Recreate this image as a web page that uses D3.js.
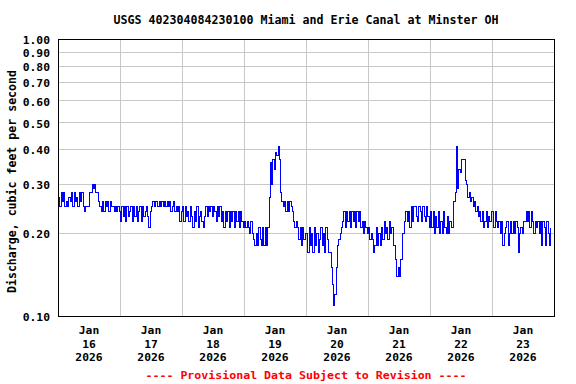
<!DOCTYPE html>
<html>
<head>
<meta charset="utf-8">
<script src="https://cdn.jsdelivr.net/npm/d3@7"></script>
<style>
  html, body { margin: 0; padding: 0; background: #fff; }
  svg { display: block; }
  text { font-family: "DejaVu Sans Mono", "Liberation Mono", monospace; font-weight: bold; }
</style>
</head>
<body>
<svg id="chart" width="576" height="384"></svg>
<script>
// ---- Data (half-hourly discharge, cfs) ----
const title = "USGS 402304084230100 Miami and Erie Canal at Minster OH";
const yTitle = "Discharge, cubic feet per second";
const footnote = "---- Provisional Data Subject to Revision ----";
const startDate = "2026-01-16T00:00:00Z";
const endDate = "2026-01-24T00:00:00Z";
const dayLabels = ["16", "17", "18", "19", "20", "21", "22", "23"];
const monthLabel = "Jan";
const yearLabel = "2026";
const yTicks = [0.10, 0.20, 0.30, 0.40, 0.50, 0.60, 0.70, 0.80, 0.90, 1.00];
const yGrid = [0.20, 0.30, 0.40, 0.50, 0.60, 0.70, 0.80, 0.90];

const jan16 = [0.27,0.25, 0.28,0.26, 0.28,0.25, 0.26,0.25, 0.27,0.26, 0.28,0.25, 0.28,0.26, 0.27,0.25,
               0.28,0.26, 0.28,0.25, 0.24,0.25, 0.25,0.25, 0.28,0.28, 0.30,0.29, 0.30,0.28, 0.28,0.26,
               0.25,0.24, 0.26,0.24, 0.26,0.25, 0.26,0.24, 0.26,0.25, 0.25,0.24, 0.25,0.24, 0.25,0.24];
const jan17 = [0.22,0.25, 0.23,0.25, 0.22,0.25, 0.23,0.24, 0.25,0.22, 0.25,0.23, 0.25,0.22, 0.24,0.25,
               0.22,0.25, 0.23,0.24, 0.25,0.23, 0.21,0.24, 0.25,0.26, 0.25,0.26, 0.26,0.25, 0.26,0.25,
               0.26,0.25, 0.26,0.25, 0.26,0.25, 0.26,0.24, 0.25,0.26, 0.24,0.25, 0.24,0.25, 0.22,0.24];
const jan18 = [0.25,0.22, 0.25,0.23, 0.24,0.22, 0.25,0.23, 0.21,0.24, 0.22,0.25, 0.21,0.23, 0.24,0.22,
               0.21,0.23, 0.25,0.23, 0.25,0.24, 0.25,0.23, 0.25,0.24, 0.22,0.25, 0.23,0.25, 0.22,0.24,
               0.21,0.24, 0.22,0.24, 0.21,0.24, 0.22,0.24, 0.21,0.24, 0.22,0.24, 0.21,0.24, 0.22,0.21];
const jan19 = [0.22,0.21, 0.22,0.21, 0.20,0.22, 0.20,0.19, 0.18,0.20, 0.18,0.21, 0.19,0.18, 0.21,0.18,
               0.21,0.18, 0.21,0.27, 0.36,0.30, 0.37,0.34, 0.39,0.38, 0.41,0.37, 0.28,0.26, 0.25,0.26,
               0.24,0.26, 0.24,0.26, 0.25,0.24, 0.22,0.21, 0.22,0.21, 0.19,0.21, 0.18,0.21, 0.19,0.20];
const jan20 = [0.20,0.17, 0.21,0.18, 0.20,0.17, 0.21,0.18, 0.20,0.17, 0.19,0.21, 0.18,0.20, 0.17,0.21,
               0.19,0.17, 0.17,0.15, 0.13,0.11, 0.12,0.15, 0.18,0.19, 0.20,0.21, 0.22,0.24, 0.21,0.24,
               0.22,0.24, 0.21,0.24, 0.22,0.24, 0.21,0.24, 0.22,0.24, 0.21,0.22, 0.20,0.22, 0.21,0.20];
const jan21 = [0.21,0.19, 0.20,0.19, 0.17,0.18, 0.21,0.18, 0.20,0.18, 0.21,0.19, 0.22,0.20, 0.21,0.19,
               0.22,0.20, 0.21,0.18, 0.18,0.16, 0.14,0.15, 0.14,0.16, 0.20,0.20, 0.22,0.24, 0.22,0.24,
               0.21,0.25, 0.22,0.25, 0.25,0.23, 0.22,0.25, 0.24,0.22, 0.25,0.23, 0.22,0.25, 0.23,0.21];
const jan22 = [0.24,0.21, 0.24,0.20, 0.23,0.21, 0.24,0.20, 0.22,0.20, 0.24,0.21, 0.20,0.23, 0.20,0.22,
               0.21,0.21, 0.26,0.28, 0.41,0.29, 0.34,0.33, 0.37,0.37, 0.37,0.31, 0.30,0.27, 0.28,0.26,
               0.27,0.25, 0.26,0.24, 0.25,0.23, 0.24,0.22, 0.24,0.21, 0.22,0.24, 0.21,0.23, 0.22,0.24];
const jan23 = [0.24,0.21, 0.24,0.22, 0.21,0.22, 0.20,0.22, 0.18,0.20, 0.21,0.22, 0.18,0.20, 0.22,0.20,
               0.22,0.20, 0.22,0.21, 0.17,0.20, 0.21,0.20, 0.22,0.22, 0.24,0.22, 0.24,0.21, 0.24,0.22,
               0.20,0.22, 0.21,0.22, 0.20,0.22, 0.18,0.22, 0.21,0.18, 0.22,0.20, 0.18,0.21];

const values = [].concat(jan16, jan17, jan18, jan19, jan20, jan21, jan22, jan23);
const t0 = new Date(startDate);
const series = values.map((v, i) => ({ t: d3.utcMinute.offset(t0, i * 30), v }));

// ---- Layout ----
const svg = d3.select("#chart");
const L = 58, R = 554, T = 39, B = 316;

const x = d3.scaleUtc().domain([new Date(startDate), new Date(endDate)]).range([L, R]);
const y = d3.scaleLog().domain([0.1, 1]).range([B, T]);

// Gridlines
const days = d3.utcDay.range(new Date(startDate), new Date(endDate));
svg.append("g").selectAll("line").data(days.slice(1)).join("line")
  .attr("x1", d => Math.round(x(d)) + 0.5).attr("x2", d => Math.round(x(d)) + 0.5)
  .attr("y1", T).attr("y2", B)
  .attr("stroke", "#c8c8c8").attr("stroke-width", 1).attr("shape-rendering", "crispEdges");
svg.append("g").selectAll("line").data(yGrid).join("line")
  .attr("x1", L).attr("x2", R)
  .attr("y1", d => Math.round(y(d)) + 0.5).attr("y2", d => Math.round(y(d)) + 0.5)
  .attr("stroke", "#c8c8c8").attr("stroke-width", 1).attr("shape-rendering", "crispEdges");

// Data line (pixel-snapped, like the original bitmap plot)
const line = d3.line()
  .x(d => Math.round(x(d.t)) + 0.5)
  .y(d => Math.round(y(d.v)) + 0.5)
  .curve(d3.curveStepAfter);
svg.append("path").datum(series)
  .attr("d", line).attr("fill", "none")
  .attr("stroke", "#0000ff").attr("stroke-width", 1)
  .attr("shape-rendering", "crispEdges");

// Frame
svg.append("rect").attr("x", L + 0.5).attr("y", T + 0.5)
  .attr("width", R - L).attr("height", B - T)
  .attr("fill", "none").attr("stroke", "#000").attr("stroke-width", 1)
  .attr("shape-rendering", "crispEdges");

// Y axis labels
const yAxis = d3.axisLeft(y).tickValues(yTicks).tickFormat(d3.format(".2f")).tickSize(0).tickPadding(8);
const gy = svg.append("g").attr("transform", `translate(${L},0)`).call(yAxis);
gy.select(".domain").remove();
gy.selectAll("text").attr("font-size", "11.3px").attr("fill", "#000")
  .attr("font-family", "DejaVu Sans Mono").attr("font-weight", "bold").attr("dy", "0.42em")
  .attr("textLength", 27.3).attr("lengthAdjust", "spacingAndGlyphs");

// X axis labels (three lines, at noon of each day)
const noons = days.map(d => d3.utcHour.offset(d, 12));
const gx = svg.append("g");
noons.forEach((d, i) => {
  const cx = x(d);
  gx.append("text").attr("x", cx).attr("y", 334).attr("text-anchor", "middle")
    .attr("font-size", "11.3px").attr("fill", "#000").text(monthLabel);
  gx.append("text").attr("x", cx).attr("y", 347.5).attr("text-anchor", "middle")
    .attr("font-size", "11.3px").attr("fill", "#000").text(dayLabels[i]);
  gx.append("text").attr("x", cx).attr("y", 361).attr("text-anchor", "middle")
    .attr("font-size", "11.3px").attr("fill", "#000").text(yearLabel)
    .attr("textLength", 27.3).attr("lengthAdjust", "spacingAndGlyphs");
});

// Title
svg.append("text").attr("x", (L + R) / 2).attr("y", 24).attr("text-anchor", "middle")
  .attr("font-size", "12px").attr("fill", "#000")
  .attr("textLength", 385).attr("lengthAdjust", "spacingAndGlyphs").text(title);

// Y title
svg.append("text").attr("transform", `translate(16,${(T + B) / 2 + 4}) rotate(-90)`)
  .attr("text-anchor", "middle").attr("font-size", "11.6px").attr("fill", "#000")
  .attr("textLength", 223).attr("lengthAdjust", "spacingAndGlyphs").text(yTitle);

// Footnote
svg.append("text").attr("x", (L + R) / 2).attr("y", 379).attr("text-anchor", "middle")
  .attr("font-size", "11.3px").attr("fill", "#ff0000")
  .attr("textLength", 321).attr("lengthAdjust", "spacingAndGlyphs").text(footnote);
</script>
</body>
</html>
